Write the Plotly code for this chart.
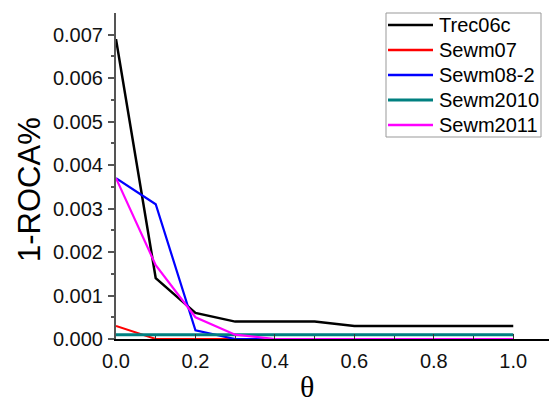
import plotly.graph_objects as go

theta = [0.0, 0.1, 0.2, 0.3, 0.4, 0.5, 0.6, 0.7, 0.8, 0.9, 1.0]
trec06c = [0.0069, 0.0014, 0.0006, 0.0004, 0.0004, 0.0004, 0.0003, 0.0003, 0.0003, 0.0003, 0.0003]
sewm07 = [0.0003, 0.0, 0.0, 0.0, 0.0, 0.0, 0.0, 0.0, 0.0, 0.0, 0.0]
sewm08_2 = [0.0037, 0.0031, 0.0002, 0.0, 0.0, 0.0, 0.0, 0.0, 0.0, 0.0, 0.0]
sewm2010 = [0.0001, 0.0001, 0.0001, 0.0001, 0.0001, 0.0001, 0.0001, 0.0001, 0.0001, 0.0001, 0.0001]
sewm2011 = [0.0037, 0.0017, 0.0005, 0.0001, 0.0, 0.0, 0.0, 0.0, 0.0, 0.0, 0.0]

x_ticks = [0.0, 0.2, 0.4, 0.6, 0.8, 1.0]
x_ticktext = ["0.0", "0.2", "0.4", "0.6", "0.8", "1.0"]
y_ticks = [0.000, 0.001, 0.002, 0.003, 0.004, 0.005, 0.006, 0.007]
y_ticktext = ["0.000", "0.001", "0.002", "0.003", "0.004", "0.005", "0.006", "0.007"]

series = [
    ("Trec06c", trec06c, "#000000", 2.5),
    ("Sewm07", sewm07, "#ff0000", 2),
    ("Sewm08-2", sewm08_2, "#0000ff", 2.2),
    ("Sewm2010", sewm2010, "#008080", 3),
    ("Sewm2011", sewm2011, "#ff00ff", 2.2),
]

W, H = 549, 405
L, R, T, B = 116, 0, 13, 66
PW, PH = W - L - R, H - T - B
SANS = "Liberation Sans"


def px(x):
    return (x - L) / PW


def py(y):
    return (H - B - y) / PH


fig = go.Figure()
for name, ys, color, w in series:
    fig.add_trace(go.Scatter(x=theta, y=ys, mode="lines", name=name,
                             line=dict(color=color, width=w), showlegend=False))

shapes = []
annotations = []
shapes.append(dict(type="rect", xref="paper", yref="paper",
                   x0=px(386), x1=px(541), y0=py(137), y1=py(13),
                   line=dict(color="#999999", width=1), fillcolor="white", layer="above"))
for i, (name, ys, color, w) in enumerate(series):
    yc = 25 + 25 * i
    shapes.append(dict(type="line", xref="paper", yref="paper",
                       x0=px(388), x1=px(433), y0=py(yc), y1=py(yc),
                       line=dict(color=color, width=max(w, 2.5)), layer="above"))
    annotations.append(dict(xref="paper", yref="paper", x=px(437), y=py(yc),
                            xanchor="left", yanchor="middle", showarrow=False,
                            text=name, font=dict(family=SANS, size=20, color="black")))

annotations.append(dict(xref="paper", yref="paper", x=px(29), y=py(190),
                        xanchor="center", yanchor="middle", showarrow=False,
                        text="1-ROCA%", textangle=-90,
                        font=dict(family=SANS, size=31, color="black")))
annotations.append(dict(xref="x", yref="paper", x=0.48, y=py(386),
                        xanchor="center", yanchor="middle", showarrow=False,
                        text="θ",
                        font=dict(family="Liberation Serif", size=30, color="black")))

tick_font = dict(family=SANS, size=20, color="#111111")

fig.update_layout(
    width=W, height=H,
    margin=dict(l=L, r=R, t=T, b=B),
    plot_bgcolor="white", paper_bgcolor="white",
    font=dict(family=SANS, color="black", size=20),
    showlegend=False,
    shapes=shapes,
    annotations=annotations,
    xaxis=dict(range=[0, 1.09], tickvals=x_ticks, ticktext=x_ticktext,
               tickfont=tick_font,
               ticks="inside", ticklen=5, tickcolor="#333", tickwidth=1,
               ticklabelstandoff=3,
               minor=dict(tickvals=[0.1, 0.3, 0.5, 0.7, 0.9], ticks="inside", ticklen=3, tickcolor="#333"),
               showline=True, linecolor="black", linewidth=1.5,
               showgrid=False, zeroline=False),
    yaxis=dict(range=[0, 0.0075], tickvals=y_ticks, ticktext=y_ticktext,
               tickfont=tick_font,
               ticks="outside", ticklen=6, tickcolor="#555", tickwidth=1.5,
               ticklabelstandoff=1,
               minor=dict(tickvals=[0.0005, 0.0015, 0.0025, 0.0035, 0.0045, 0.0055, 0.0065], ticks="outside", ticklen=3, tickcolor="#555"),
               showline=True, linecolor="#555", linewidth=2,
               showgrid=False, zeroline=False),
)

fig.write_html("out.html")
